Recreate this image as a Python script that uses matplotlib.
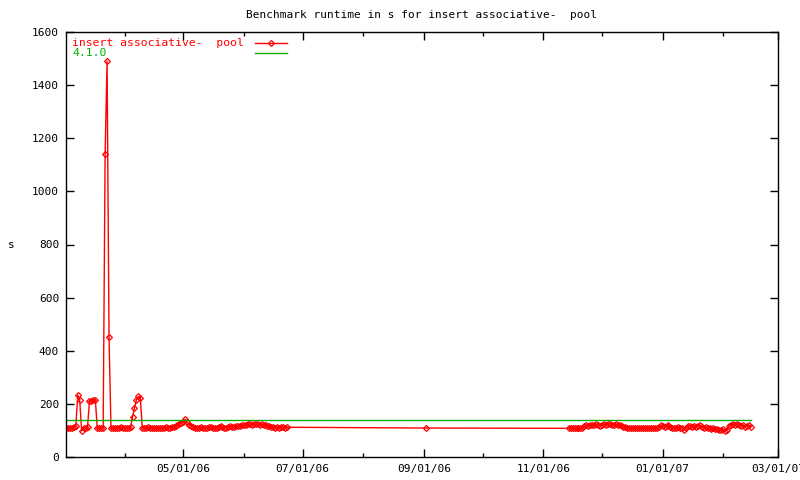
import pandas as pd
import matplotlib
matplotlib.use('Agg')
import matplotlib.pyplot as plt
import matplotlib.dates as mdates

# runtime in s, one value per day (first block of runs)
inicio_1 = '2006-03-02'
valores_1 = [110, 108, 111, 109, 112,
             115, 233, 215, 98, 110, 108, 112,
             210, 212, 214, 215, 108, 110, 109, 110,
             1140, 1490, 450, 108,
             110, 109, 111, 110, 112, 110, 109, 111, 110,
             112, 150, 185, 215, 228, 222, 110,
             111, 110, 112, 109, 110, 108, 110, 111, 109, 108, 110, 112, 111, 110, 113, 112, 115,
             120, 125, 128, 132, 142, 130, 122, 118,
             112, 110, 109, 111, 113, 110, 108, 110, 112, 114, 111, 109, 110, 113, 115, 112,
             110, 111, 114, 116, 113, 112, 115, 117,
             118, 120, 122, 121, 123, 124, 122, 125, 123, 124, 121, 123, 122, 120, 118, 116, 114, 112,
             111, 113, 110, 112, 114, 111, 112]

# ponto isolado no meio
data_meio = '2006-09-02'
valor_meio = 109

# segundo bloco de execucoes
inicio_2 = '2006-11-14'
valores_2 = [108, 108, 109, 108, 108, 109, 108, 110,
             115, 120, 118, 122, 119,
             121, 123, 120, 118, 122, 124, 121, 123, 125, 122, 120, 123, 121, 119, 117, 114, 112, 110, 109,
             108, 108, 109, 108, 108, 108, 109, 108, 108, 108, 109, 108, 110, 108,
             114, 120, 118, 112, 116, 121, 114,
             110, 111, 110, 112, 110, 111, 103, 110,
             116, 118, 114, 117, 112, 116, 119,
             112, 110, 113, 108, 111, 105, 109, 106, 104,
             102, 100, 104, 98, 103,
             115, 121, 124, 122, 125, 121, 118, 122, 113, 116, 119, 114]

# referencia da versao 4.1.0
ref_410 = 140

datas = (list(pd.date_range(inicio_1, periods=len(valores_1), freq='D'))
         + [pd.Timestamp(data_meio)]
         + list(pd.date_range(inicio_2, periods=len(valores_2), freq='D')))
valores = valores_1 + [valor_meio] + valores_2

plt.rcParams['font.family'] = 'DejaVu Sans Mono'

fig = plt.figure(figsize=(8, 4.8), dpi=100)
ax = fig.add_axes([66 / 800, 23 / 480, 712 / 800, 425 / 480])

estilo_marca = dict(marker='D', markersize=3.0, markerfacecolor='none',
                    markeredgewidth=0.9)
ax.plot(datas, valores, color='red', lw=1, **estilo_marca)
ax.plot([datas[0], datas[-1]], [ref_410, ref_410], color='#00b000', lw=1)

ax.set_xlim(pd.Timestamp('2006-03-02'), pd.Timestamp('2007-03-01'))
ax.set_ylim(0, 1600)
ax.set_yticks(range(0, 1601, 200))

ax.xaxis.set_major_locator(mdates.MonthLocator(bymonth=[1, 3, 5, 7, 9, 11]))
ax.xaxis.set_major_formatter(mdates.DateFormatter('%m/%d/%y'))
ax.xaxis.set_minor_locator(mdates.MonthLocator())

ax.tick_params(which='both', direction='in', top=True, right=True,
               labelsize=8, width=1, pad=5)
ax.tick_params(which='major', length=6)
ax.tick_params(which='minor', length=3)
for s in ax.spines.values():
    s.set_linewidth(1)

ax.set_title('Benchmark runtime in s for insert associative-  pool',
             fontsize=8, pad=10)
ax.set_ylabel('s', fontsize=8, rotation=0, va='center', ha='center')
ax.yaxis.set_label_coords(-0.077, 0.5)

# legenda no estilo gnuplot: texto a esquerda, amostra a direita
def px_x(x):
    return (x - 66) / 712

def px_y(y):
    return (457 - y) / 425

ax.text(px_x(72), px_y(43), 'insert associative-  pool', color='red',
        fontsize=8.2, va='center', ha='left', transform=ax.transAxes)
ax.plot([px_x(255), px_x(287)], [px_y(43), px_y(43)], transform=ax.transAxes,
        clip_on=False, color='red', lw=1)
ax.plot([px_x(271)], [px_y(43)], transform=ax.transAxes, clip_on=False,
        linestyle='none', markeredgecolor='red', **estilo_marca)
ax.text(px_x(72), px_y(53), '4.1.0', color='#00b000',
        fontsize=8.2, va='center', ha='left', transform=ax.transAxes)
ax.plot([px_x(255), px_x(287)], [px_y(53), px_y(53)], transform=ax.transAxes,
        clip_on=False, color='#00b000', lw=1)

fig.savefig('out.png', dpi=100)
